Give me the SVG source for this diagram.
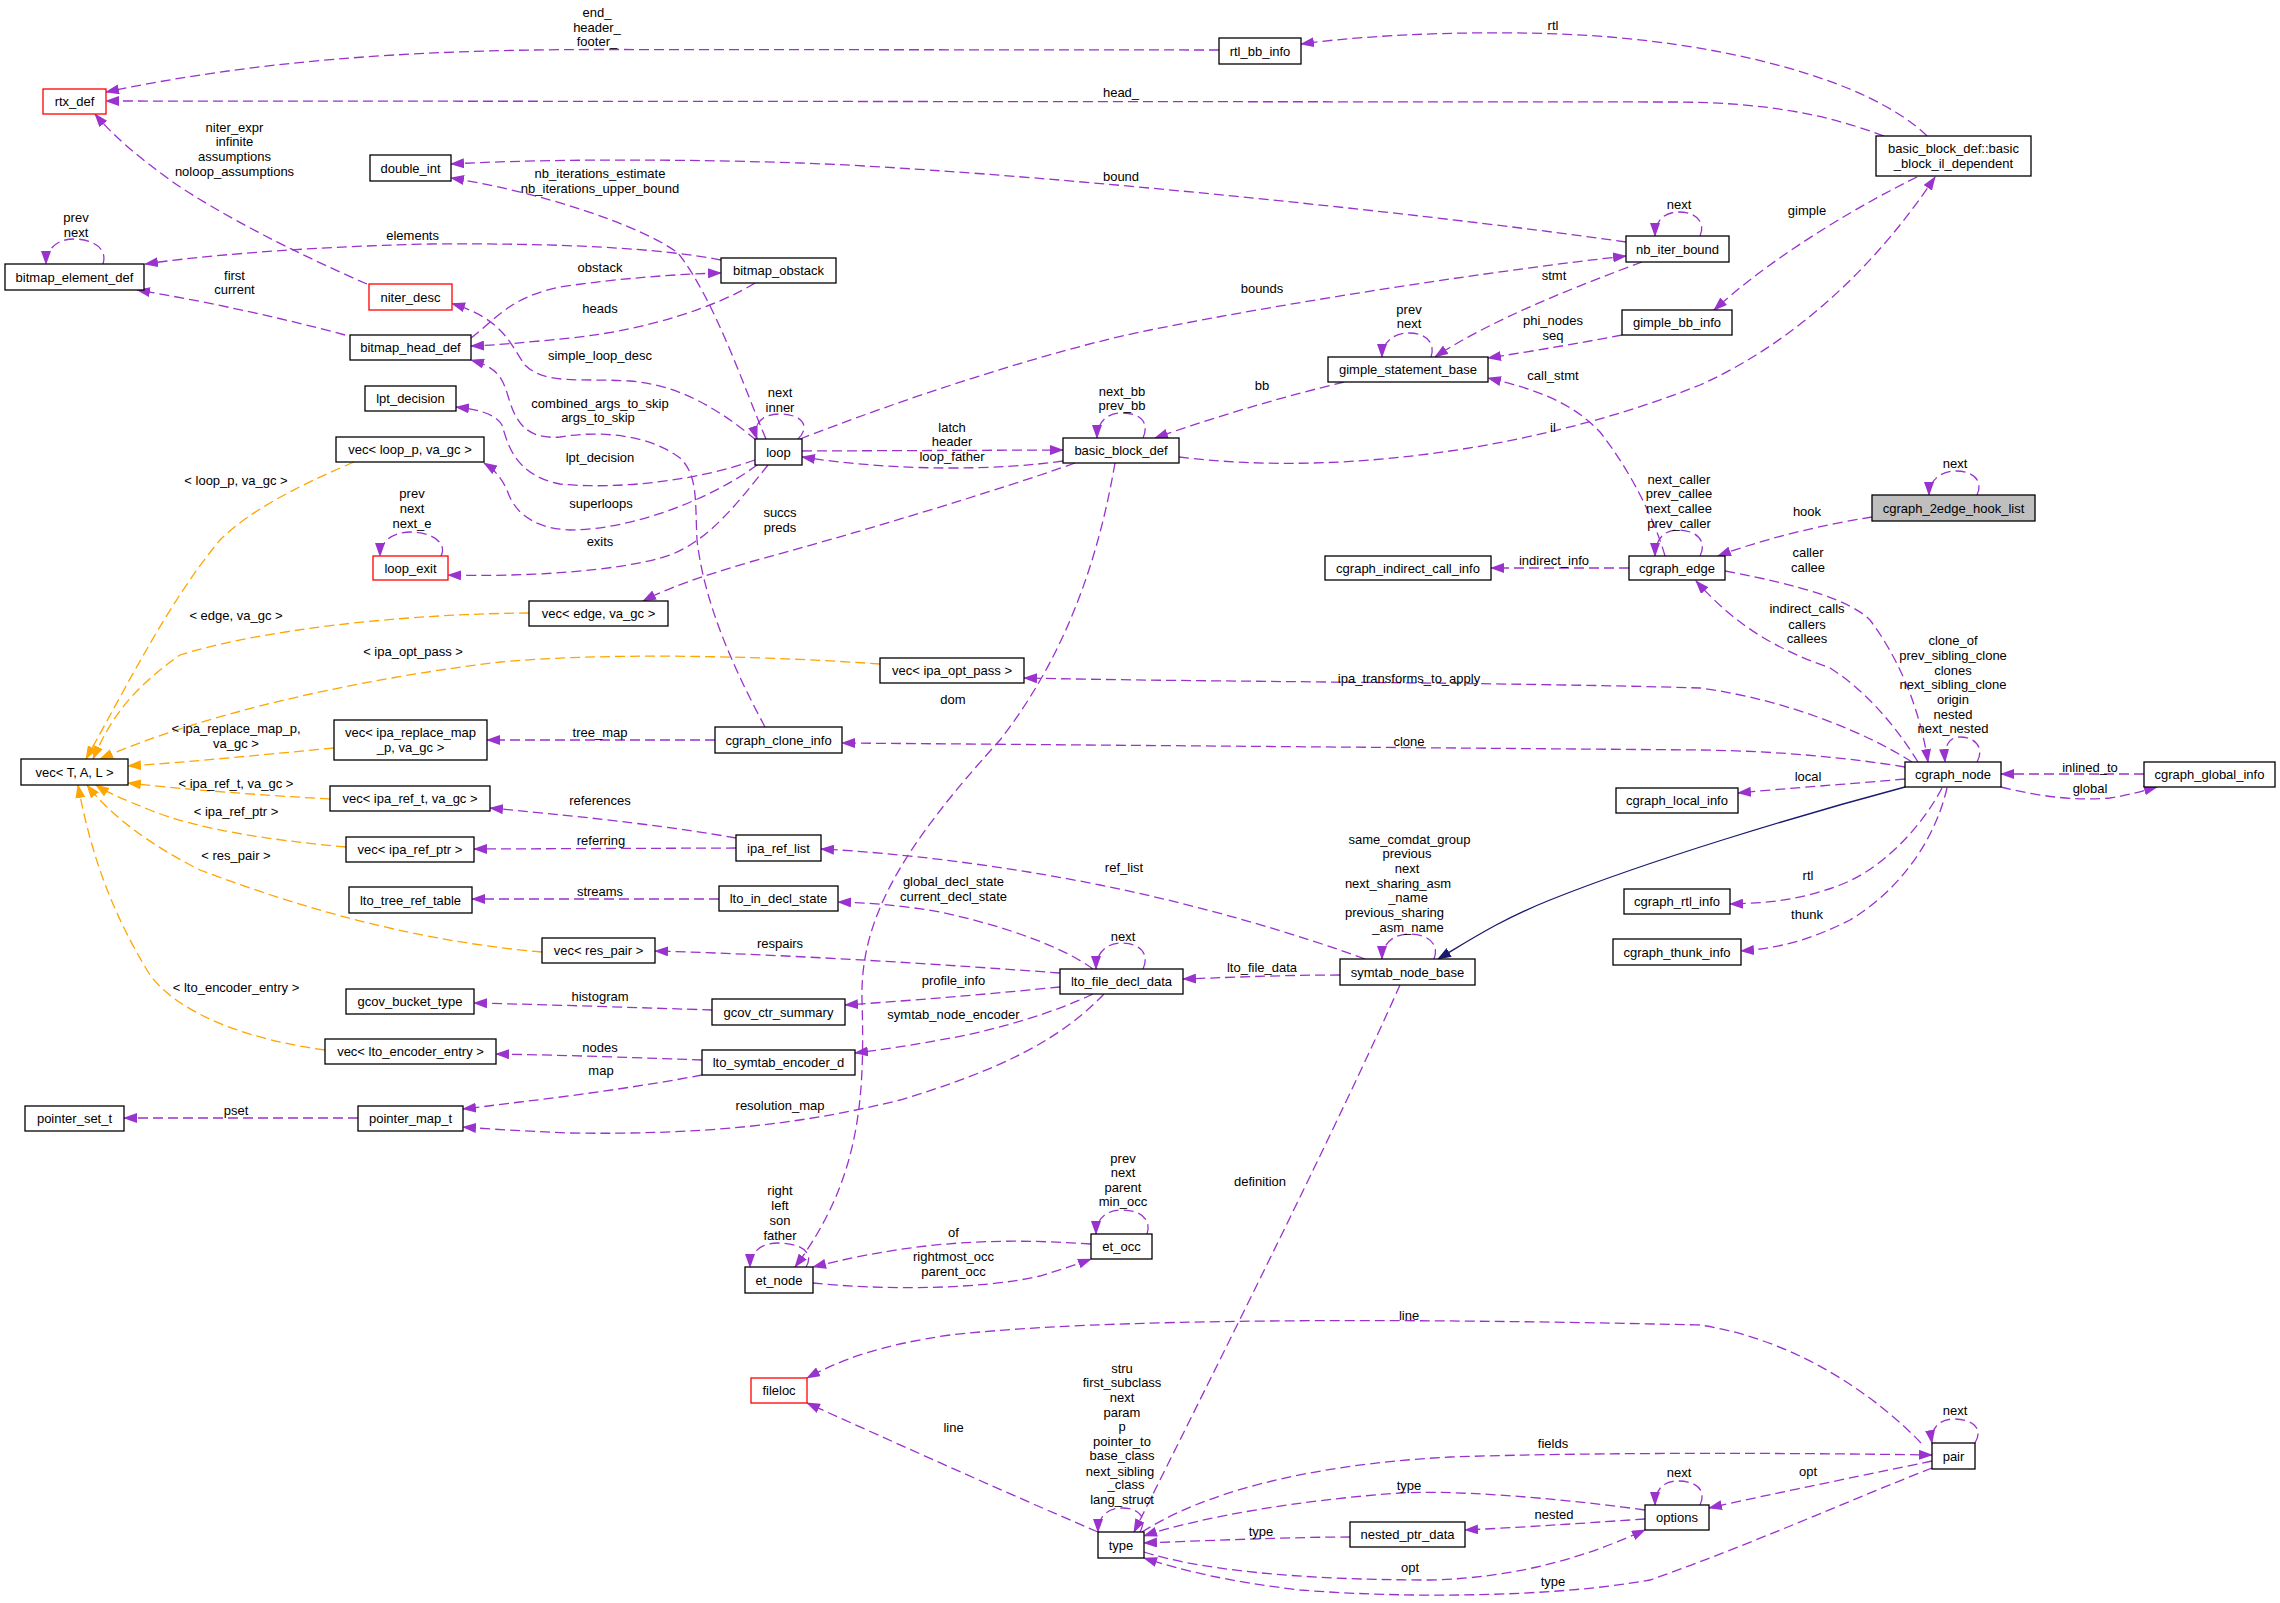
<svg xmlns="http://www.w3.org/2000/svg" width="2280" height="1603" viewBox="0 0 2280 1603">
<defs>
<marker id="ap" markerUnits="userSpaceOnUse" viewBox="0 0 14 10" refX="13" refY="5" markerWidth="14" markerHeight="10" orient="auto"><path d="M0,0 L14,5 L0,10 z" fill="#9a32cd" stroke="none"/></marker>
<marker id="ao" markerUnits="userSpaceOnUse" viewBox="0 0 14 10" refX="13" refY="5" markerWidth="14" markerHeight="10" orient="auto"><path d="M0,0 L14,5 L0,10 z" fill="#ffa500" stroke="none"/></marker>
<marker id="ai" markerUnits="userSpaceOnUse" viewBox="0 0 14 10" refX="13" refY="5" markerWidth="14" markerHeight="10" orient="auto"><path d="M0,0 L14,5 L0,10 z" fill="#191970" stroke="none"/></marker>
</defs>
<style>
text{font-family:"Liberation Sans",Arial,sans-serif;font-size:13px;fill:#000}
.nodes text{text-anchor:middle}
.nodes rect{fill:#fff;stroke:#000;stroke-width:1.3}
.nodes .red rect{stroke:#ff0000}
.nodes .grey rect{fill:#bfbfbf}
.edges path{fill:none;stroke:#9a32cd;stroke-width:1.3;stroke-dasharray:10,5;marker-end:url(#ap)}
.edges path.o{stroke:#ffa500;marker-end:url(#ao)}
.edges path.i{stroke:#191970;stroke-dasharray:none;marker-end:url(#ai)}
.edges text{text-anchor:middle}
</style>
<rect width="2280" height="1603" fill="#fff"/>
<g class="edges" id="connectors">
<path d="M1219,50 L600,49.5 C400,49.5 250,62 106,92"/>
<text x="597" y="17">end_</text><text x="597" y="31.5">header_</text><text x="597" y="46">footer_</text>
<path d="M1884,136 C1820,112 1760,103 1680,102 L106,101"/>
<text x="1121" y="97">head_</text>
<path d="M1927,136 C1870,80 1720,40 1560,34 C1450,30 1350,37 1301,44"/>
<text x="1553" y="29.5">rtl</text>
<path d="M1917,177 C1870,200 1780,250 1714,310"/>
<text x="1807" y="215">gimple</text>
<path d="M1179,457 C1350,478 1550,445 1700,385 C1800,340 1880,260 1935,177"/>
<text x="1553" y="432">il</text>
<path d="M1700,236 C1706,222 1696,212 1679,212 C1663,212 1655,222 1655,236"/>
<text x="1679" y="208.5">next</text>
<path d="M1626,242 C1400,210 1000,170 800,163 C650,158 520,160 451,164"/>
<text x="1121" y="181">bound</text>
<path d="M766,439 C745,390 715,300 678,253 C640,225 540,192 451,178"/>
<text x="600" y="177.5">nb_iterations_estimate</text><text x="600" y="192.5">nb_iterations_upper_bound</text>
<path d="M367,284 C300,255 220,215 170,180 C140,158 115,138 95,114"/>
<text x="234.5" y="131.5">niter_expr</text><text x="234.5" y="146">infinite</text><text x="234.5" y="161">assumptions</text><text x="234.5" y="175.5">noloop_assumptions</text>
<path d="M103,264 C108,248 92,239 74,239 C56,239 46,250 46,264"/>
<text x="76" y="222">prev</text><text x="76" y="237">next</text>
<path d="M721,260 C660,248 560,243 430,244 C300,247 200,256 145,264"/>
<text x="412.6" y="239.5">elements</text>
<path d="M345,335 C290,320 210,302 137,290"/>
<text x="234.5" y="279.5">first</text><text x="234.5" y="294">current</text>
<path d="M471,338 C495,320 510,297 560,287 C620,278 680,274 721,273"/>
<text x="600" y="271.5">obstack</text>
<path d="M755,283 C720,305 650,330 570,338 C530,342 500,345 471,346"/>
<text x="600" y="313">heads</text>
<path d="M756,440 C720,410 680,385 630,381 C580,378 545,385 525,365 C510,345 505,320 452,303.5"/>
<text x="600" y="359.5">simple_loop_desc</text>
<path d="M765,727 C740,680 705,610 697,540 C695,500 698,475 680,458 C650,435 600,430 560,437 C525,440 515,420 508,396 C502,375 495,367 471,360"/>
<text x="600" y="407.5">combined_args_to_skip</text><text x="598" y="421.5">args_to_skip</text>
<path d="M798,439 C812,425 800,414 780,414 C762,414 752,424 757,439"/>
<text x="780" y="396.5">next</text><text x="780" y="411.5">inner</text>
<path d="M755,460 C700,480 620,490 560,484 C515,475 508,445 502,425 C495,413 475,409 456,407"/>
<text x="600" y="461.5">lpt_decision</text>
<path d="M757,465 C710,500 630,530 570,530 C525,528 512,505 507,490 C500,475 492,468 484,463"/>
<text x="601" y="507.5">superloops</text>
<path d="M768,465 C740,500 710,540 670,555 C620,572 520,577 448,575"/>
<text x="600" y="546">exits</text>
<path d="M441,556 C448,542 430,532 411,532 C392,532 380,542 380,556"/>
<text x="412" y="498">prev</text><text x="412" y="513">next</text><text x="412" y="527.5">next_e</text>
<path d="M1075,463 C1000,490 850,535 750,562 C700,577 670,587 643,601"/>
<text x="780" y="516.5">succs</text><text x="780" y="531.5">preds</text>
<path d="M802,451 L1063,450"/>
<text x="952" y="431.5">latch</text><text x="952" y="446">header</text>
<path d="M1063,461 C1000,470 900,472 802,457"/>
<text x="952" y="461">loop_father</text>
<path d="M1143,438 C1150,422 1140,413 1122,413 C1105,413 1097,424 1097,438"/>
<text x="1122" y="395.5">next_bb</text><text x="1122" y="410">prev_bb</text>
<path d="M800,439 C900,400 1050,350 1150,330 C1300,300 1500,270 1626,256"/>
<text x="1262" y="292.5">bounds</text>
<path d="M1431,357 C1436,342 1425,333 1409,333 C1392,333 1382,344 1382,357"/>
<text x="1409" y="313.5">prev</text><text x="1409" y="328">next</text>
<path d="M1642,262 C1580,285 1490,320 1435,357"/>
<text x="1554" y="279.5">stmt</text>
<path d="M1622,335 C1580,343 1540,350 1488,358"/>
<text x="1553" y="324.5">phi_nodes</text><text x="1553" y="339.5">seq</text>
<path d="M1344,382 C1290,395 1220,415 1155,438"/>
<text x="1262" y="389.5">bb</text>
<path d="M1665,556 C1655,520 1630,470 1600,432 C1570,400 1530,388 1488,378"/>
<text x="1553" y="380">call_stmt</text>
<path d="M1700,556 C1708,540 1695,530 1678,530 C1662,530 1655,542 1655,556"/>
<text x="1679" y="483.5">next_caller</text><text x="1679" y="498">prev_callee</text><text x="1679" y="512.5">next_callee</text><text x="1679" y="527.5">prev_caller</text>
<path d="M1977,495 C1984,480 1972,471 1956,471 C1940,471 1929,481 1929,495"/>
<text x="1955" y="468">next</text>
<path d="M1872,517 C1820,525 1760,540 1718,556"/>
<text x="1807" y="516">hook</text>
<path d="M1629,568 L1491,568"/>
<text x="1554" y="564.5">indirect_info</text>
<path d="M1725,571 C1800,585 1850,600 1870,620 C1900,660 1920,710 1928,762"/>
<text x="1808" y="557">caller</text><text x="1808" y="572">callee</text>
<path d="M1918,762 C1895,725 1865,690 1830,668 C1780,650 1740,630 1696,581"/>
<text x="1807" y="613">indirect_calls</text><text x="1807" y="628.5">callers</text><text x="1807" y="643">callees</text>
<path d="M1977,762 C1985,748 1975,737 1960,737 C1948,737 1944,748 1945,762"/>
<text x="1953" y="645">clone_of</text><text x="1953" y="660">prev_sibling_clone</text><text x="1953" y="674.5">clones</text><text x="1953" y="689">next_sibling_clone</text><text x="1953" y="704">origin</text><text x="1953" y="718.5">nested</text><text x="1953" y="733">next_nested</text>
<path d="M1912,762 C1870,735 1790,700 1700,688 C1500,682 1200,682 1024,678"/>
<text x="1409" y="683">ipa_transforms_to_apply</text>
<path d="M1905,767 C1850,758 1780,751 1700,750 L842,743"/>
<text x="1409" y="745.5">clone</text>
<path d="M1905,779 C1850,784 1790,788 1738,793"/>
<text x="1808" y="780.5">local</text>
<path class="i" d="M1905,787 C1800,815 1650,860 1550,900 C1500,920 1470,940 1438,959"/>
<path d="M1942,788 C1920,830 1880,870 1840,885 C1800,900 1770,903 1730,904"/>
<text x="1808" y="880">rtl</text>
<path d="M1947,788 C1935,840 1900,890 1850,920 C1810,940 1780,948 1741,951"/>
<text x="1807" y="919">thunk</text>
<path d="M2144,774 L2001,774"/>
<text x="2090" y="772">inlined_to</text>
<path d="M2001,787 C2040,797 2080,801 2110,798 C2130,795 2142,791 2157,787"/>
<text x="2090" y="793">global</text>
<path d="M1434,959 C1440,944 1428,934 1409,934 C1392,934 1382,945 1382,959"/>
<text x="1409.5" y="843.5">same_comdat_group</text><text x="1407" y="858.2">previous</text><text x="1407" y="872.9">next</text><text x="1398" y="887.6">next_sharing_asm</text><text x="1408" y="902.3">_name</text><text x="1394.5" y="917">previous_sharing</text><text x="1408" y="931.7">_asm_name</text>
<path d="M1365,959 C1300,935 1200,905 1100,885 C1000,865 900,853 821,849"/>
<text x="1124" y="871.5">ref_list</text>
<path d="M1340,975 C1290,975 1240,977 1183,979"/>
<text x="1262" y="971.5">lto_file_data</text>
<path d="M1400,985 C1340,1120 1220,1360 1134,1532"/>
<text x="1260" y="1185.5">definition</text>
<path d="M1143,969 C1150,954 1140,943 1122,943 C1105,943 1096,954 1096,969"/>
<text x="1123" y="941">next</text>
<path d="M1093,969 C1060,945 1000,925 940,912 C900,905 870,903 838,902"/>
<text x="953.5" y="885.5">global_decl_state</text><text x="953.5" y="900.5">current_decl_state</text>
<path d="M1060,973 C950,965 800,955 655,951"/>
<text x="780" y="948">respairs</text>
<path d="M1060,987 C1000,993 920,1000 845,1005"/>
<text x="953.5" y="985">profile_info</text>
<path d="M1093,994 C1060,1010 1000,1030 940,1040 C900,1047 880,1050 855,1053"/>
<text x="953.5" y="1019">symtab_node_encoder</text>
<path d="M1104,994 C1060,1040 1000,1070 900,1100 C800,1125 700,1135 570,1133 C520,1131 490,1129 463,1127"/>
<text x="780" y="1109.5">resolution_map</text>
<path d="M702,1075 C650,1085 580,1095 520,1102 C495,1105 482,1107 463,1109"/>
<text x="601" y="1075">map</text>
<path d="M358,1118 L124,1118"/>
<text x="236" y="1115">pset</text>
<path d="M702,1060 C650,1058 560,1055 496,1054"/>
<text x="600" y="1051.5">nodes</text>
<path d="M712,1010 C650,1008 560,1005 474,1003"/>
<text x="600" y="1000.5">histogram</text>
<path d="M719,899 L472,899"/>
<text x="600" y="895.5">streams</text>
<path d="M736,848 L474,849"/>
<text x="601" y="844.5">referring</text>
<path d="M736,838 C680,828 600,818 490,808"/>
<text x="600" y="805">references</text>
<path d="M715,740 L487,740"/>
<text x="600" y="736.5">tree_map</text>
<path d="M1115,463 C1100,550 1070,650 1000,740 C900,850 860,920 862,1000 C865,1100 860,1180 795,1267"/>
<text x="953" y="703.5">dom</text>
<path d="M806,1267 C815,1252 800,1243 778,1243 C760,1243 750,1253 750,1267"/>
<text x="780" y="1195">right</text><text x="780" y="1209.5">left</text><text x="780" y="1224.5">son</text><text x="780" y="1239.5">father</text>
<path d="M1091,1244 C1000,1238 920,1240 813,1267"/>
<text x="953.5" y="1236.5">of</text>
<path d="M813,1283 C880,1290 980,1290 1040,1276 C1060,1270 1075,1265 1091,1259"/>
<text x="953.5" y="1260.5">rightmost_occ</text><text x="953.5" y="1275.5">parent_occ</text>
<path d="M1147,1234 C1152,1219 1140,1210 1122,1210 C1105,1210 1096,1220 1096,1234"/>
<text x="1123" y="1162.5">prev</text><text x="1123" y="1177">next</text><text x="1123" y="1191.5">parent</text><text x="1123" y="1206">min_occ</text>
<path d="M1921,1443 C1880,1400 1800,1340 1700,1325 C1400,1318 1100,1318 950,1335 C880,1345 840,1360 807,1378"/>
<text x="1409" y="1320">line</text>
<path d="M1975,1443 C1984,1428 1972,1419 1954,1419 C1938,1419 1930,1430 1932,1443"/>
<text x="1955" y="1415">next</text>
<path d="M1098,1532 C1000,1490 900,1445 807,1403"/>
<text x="953.5" y="1432">line</text>
<path d="M1140,1532 C1148,1517 1138,1508 1122,1508 C1106,1508 1098,1518 1098,1532"/>
<text x="1122" y="1372.5">stru</text><text x="1122" y="1387">first_subclass</text><text x="1122" y="1401.5">next</text><text x="1122" y="1416.5">param</text><text x="1122" y="1431">p</text><text x="1122" y="1445.5">pointer_to</text><text x="1122" y="1460">base_class</text><text x="1120" y="1475.5">next_sibling</text><text x="1126" y="1489">_class</text><text x="1122" y="1504">lang_struct</text>
<path d="M1142,1532 C1200,1495 1300,1465 1450,1457 C1600,1452 1800,1453 1932,1455"/>
<text x="1553" y="1448">fields</text>
<path d="M1645,1510 C1550,1497 1450,1490 1400,1493 C1300,1500 1200,1517 1144,1536"/>
<text x="1409" y="1490">type</text>
<path d="M1350,1537 C1300,1537 1220,1540 1144,1543"/>
<text x="1261" y="1536">type</text>
<path d="M1144,1552 C1200,1570 1300,1580 1430,1580 C1520,1578 1590,1555 1645,1530"/>
<text x="1410" y="1572">opt</text>
<path d="M1932,1468 C1850,1500 1750,1545 1650,1580 C1550,1598 1400,1598 1300,1590 C1230,1582 1180,1570 1144,1558"/>
<text x="1553" y="1586">type</text>
<path d="M1932,1461 C1880,1472 1780,1492 1709,1508"/>
<text x="1808" y="1475.5">opt</text>
<path d="M1645,1519 C1600,1522 1530,1527 1465,1530"/>
<text x="1554" y="1519">nested</text>
<path d="M1700,1505 C1707,1490 1696,1481 1678,1481 C1662,1481 1655,1491 1655,1505"/>
<text x="1679" y="1476.5">next</text>
<path class="o" d="M354,462 C300,485 250,510 220,540 C170,600 130,680 86,759"/>
<text x="236" y="485">&lt; loop_p, va_gc &gt;</text>
<path class="o" d="M529,613 C400,614 260,630 180,655 C130,690 110,720 93,759"/>
<text x="236" y="620">&lt; edge, va_gc &gt;</text>
<path class="o" d="M880,664 C750,655 600,653 500,662 C350,680 200,715 100,759"/>
<text x="413" y="656">&lt; ipa_opt_pass &gt;</text>
<path class="o" d="M334,748 C260,755 190,762 128,766"/>
<text x="236" y="733">&lt; ipa_replace_map_p,</text><text x="236" y="748">va_gc &gt;</text>
<path class="o" d="M330,799 C260,795 190,790 128,783"/>
<text x="236" y="788">&lt; ipa_ref_t, va_gc &gt;</text>
<path class="o" d="M346,847 C270,840 200,830 150,810 C125,800 108,793 96,785"/>
<text x="236" y="815.5">&lt; ipa_ref_ptr &gt;</text>
<path class="o" d="M542,952 C400,940 280,900 200,870 C150,845 110,815 87,785"/>
<text x="236" y="860">&lt; res_pair &gt;</text>
<path class="o" d="M325,1050 C250,1040 180,1015 150,975 C110,910 90,850 78,785"/>
<text x="236" y="992">&lt; lto_encoder_entry &gt;</text>
</g>
<g class="nodes">
<g id="rtx_def" class="red"><rect x="43" y="89" width="63" height="25"/><text x="74.5" y="106">rtx_def</text></g>
<g id="double_int"><rect x="370" y="155" width="81" height="26"/><text x="410.5" y="172.5">double_int</text></g>
<g id="bitmap_element_def"><rect x="5" y="264" width="139" height="26"/><text x="74.5" y="281.5">bitmap_element_def</text></g>
<g id="niter_desc" class="red"><rect x="369" y="284" width="83" height="26"/><text x="410.5" y="301.5">niter_desc</text></g>
<g id="bitmap_head_def"><rect x="350" y="335" width="121" height="25"/><text x="410.5" y="352">bitmap_head_def</text></g>
<g id="lpt_decision"><rect x="365" y="386" width="91" height="25"/><text x="410.5" y="403">lpt_decision</text></g>
<g id="vec_loop_p"><rect x="336" y="437" width="148" height="25"/><text x="410" y="454">vec&lt; loop_p, va_gc &gt;</text></g>
<g id="loop_exit" class="red"><rect x="373" y="556" width="75" height="24"/><text x="410.5" y="572.5">loop_exit</text></g>
<g id="vec_TAL"><rect x="21" y="759" width="107" height="26"/><text x="74.5" y="776.5">vec&lt; T, A, L &gt;</text></g>
<g id="vec_edge"><rect x="529" y="601" width="139" height="25"/><text x="598.5" y="618">vec&lt; edge, va_gc &gt;</text></g>
<g id="vec_ipa_replace_map"><rect x="334" y="720" width="153" height="40"/><text x="410.5" y="737">vec&lt; ipa_replace_map</text><text x="410.5" y="752">_p, va_gc &gt;</text></g>
<g id="vec_ipa_ref_t"><rect x="330" y="786" width="160" height="25"/><text x="410" y="803">vec&lt; ipa_ref_t, va_gc &gt;</text></g>
<g id="vec_ipa_ref_ptr"><rect x="346" y="837" width="128" height="25"/><text x="410" y="854">vec&lt; ipa_ref_ptr &gt;</text></g>
<g id="lto_tree_ref_table"><rect x="349" y="887" width="123" height="26"/><text x="410.5" y="904.5">lto_tree_ref_table</text></g>
<g id="vec_res_pair"><rect x="542" y="938" width="113" height="25"/><text x="598.5" y="955">vec&lt; res_pair &gt;</text></g>
<g id="gcov_bucket_type"><rect x="346" y="989" width="128" height="25"/><text x="410" y="1006">gcov_bucket_type</text></g>
<g id="vec_lto_encoder_entry"><rect x="325" y="1039" width="171" height="25"/><text x="410.5" y="1056">vec&lt; lto_encoder_entry &gt;</text></g>
<g id="pointer_set_t"><rect x="25" y="1106" width="99" height="25"/><text x="74.5" y="1123">pointer_set_t</text></g>
<g id="pointer_map_t"><rect x="358" y="1106" width="105" height="25"/><text x="410.5" y="1123">pointer_map_t</text></g>
<g id="bitmap_obstack"><rect x="721" y="258" width="115" height="25"/><text x="778.5" y="275">bitmap_obstack</text></g>
<g id="loop"><rect x="755" y="439" width="47" height="26"/><text x="778.5" y="456.5">loop</text></g>
<g id="basic_block_def"><rect x="1063" y="438" width="116" height="25"/><text x="1121" y="455">basic_block_def</text></g>
<g id="rtl_bb_info"><rect x="1219" y="38" width="82" height="26"/><text x="1260" y="55.5">rtl_bb_info</text></g>
<g id="nb_iter_bound"><rect x="1626" y="236" width="103" height="26"/><text x="1677.5" y="253.5">nb_iter_bound</text></g>
<g id="gimple_statement_base"><rect x="1328" y="357" width="160" height="25"/><text x="1408" y="374">gimple_statement_base</text></g>
<g id="gimple_bb_info"><rect x="1622" y="310" width="110" height="25"/><text x="1677" y="327">gimple_bb_info</text></g>
<g id="basic_block_il_dependent"><rect x="1876" y="136" width="155" height="40"/><text x="1953.5" y="153">basic_block_def::basic</text><text x="1953.5" y="168">_block_il_dependent</text></g>
<g id="cgraph_2edge_hook_list" class="grey"><rect x="1872" y="495" width="163" height="26"/><text x="1953.5" y="512.5">cgraph_2edge_hook_list</text></g>
<g id="vec_ipa_opt_pass"><rect x="880" y="658" width="144" height="25"/><text x="952" y="675">vec&lt; ipa_opt_pass &gt;</text></g>
<g id="cgraph_clone_info"><rect x="715" y="727" width="127" height="26"/><text x="778.5" y="744.5">cgraph_clone_info</text></g>
<g id="ipa_ref_list"><rect x="736" y="835" width="85" height="26"/><text x="778.5" y="852.5">ipa_ref_list</text></g>
<g id="lto_in_decl_state"><rect x="719" y="886" width="119" height="25"/><text x="778.5" y="903">lto_in_decl_state</text></g>
<g id="lto_file_decl_data"><rect x="1060" y="969" width="123" height="25"/><text x="1121.5" y="986">lto_file_decl_data</text></g>
<g id="gcov_ctr_summary"><rect x="712" y="999" width="133" height="26"/><text x="778.5" y="1016.5">gcov_ctr_summary</text></g>
<g id="lto_symtab_encoder_d"><rect x="702" y="1050" width="153" height="25"/><text x="778.5" y="1067">lto_symtab_encoder_d</text></g>
<g id="cgraph_indirect_call_info"><rect x="1325" y="556" width="166" height="24"/><text x="1408" y="572.5">cgraph_indirect_call_info</text></g>
<g id="cgraph_edge"><rect x="1629" y="556" width="96" height="24"/><text x="1677" y="572.5">cgraph_edge</text></g>
<g id="cgraph_local_info"><rect x="1616" y="788" width="122" height="25"/><text x="1677" y="805">cgraph_local_info</text></g>
<g id="cgraph_rtl_info"><rect x="1624" y="889" width="106" height="25"/><text x="1677" y="906">cgraph_rtl_info</text></g>
<g id="cgraph_thunk_info"><rect x="1613" y="939" width="128" height="26"/><text x="1677" y="956.5">cgraph_thunk_info</text></g>
<g id="symtab_node_base"><rect x="1340" y="959" width="135" height="26"/><text x="1407.5" y="976.5">symtab_node_base</text></g>
<g id="cgraph_node"><rect x="1905" y="762" width="96" height="25"/><text x="1953" y="779">cgraph_node</text></g>
<g id="cgraph_global_info"><rect x="2144" y="762" width="131" height="25"/><text x="2209.5" y="779">cgraph_global_info</text></g>
<g id="et_node"><rect x="745" y="1267" width="68" height="26"/><text x="779" y="1284.5">et_node</text></g>
<g id="et_occ"><rect x="1091" y="1234" width="61" height="25"/><text x="1121.5" y="1251">et_occ</text></g>
<g id="fileloc" class="red"><rect x="751" y="1378" width="56" height="25"/><text x="779" y="1395">fileloc</text></g>
<g id="type"><rect x="1098" y="1532" width="46" height="26"/><text x="1121" y="1549.5">type</text></g>
<g id="nested_ptr_data"><rect x="1350" y="1522" width="115" height="25"/><text x="1407.5" y="1539">nested_ptr_data</text></g>
<g id="options"><rect x="1645" y="1505" width="64" height="25"/><text x="1677" y="1522">options</text></g>
<g id="pair"><rect x="1932" y="1443" width="43" height="26"/><text x="1953.5" y="1460.5">pair</text></g>
</g>
</svg>
